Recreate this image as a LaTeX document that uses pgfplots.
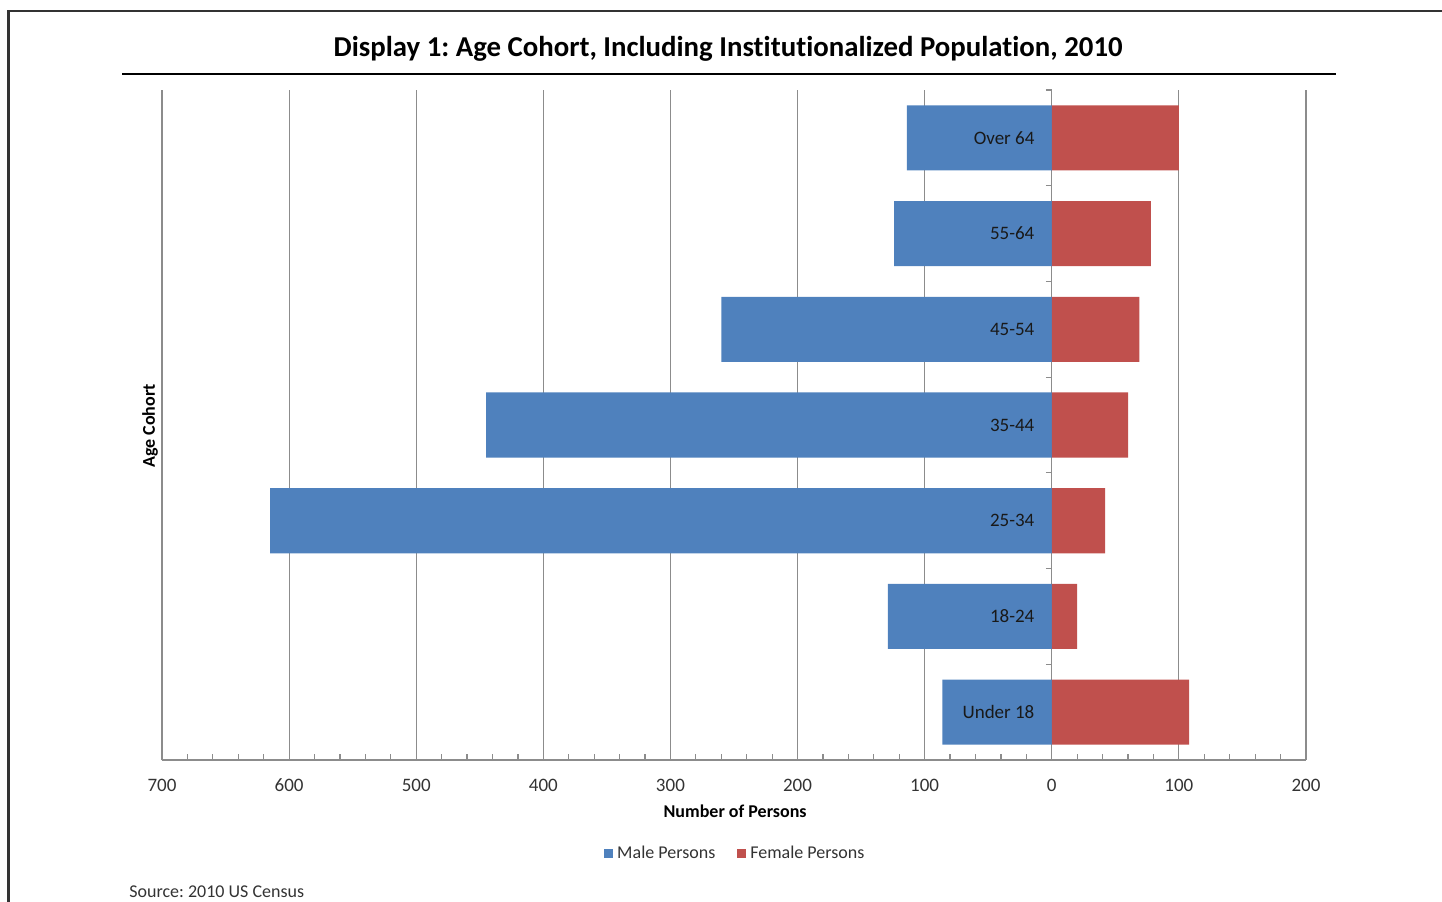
\documentclass[border=0pt]{standalone}
\usepackage{fontspec}
\setmainfont{Carlito}[Ligatures=NoCommon]
\usepackage{pgfplots}
\pgfplotsset{compat=1.18}
\definecolor{male}{HTML}{4F81BD}
\definecolor{female}{HTML}{C0504D}
\definecolor{gridc}{HTML}{8C8C8C}
\definecolor{txt}{HTML}{333333}
\frenchspacing
\begin{document}
\begin{tikzpicture}
\path (0,0) rectangle (721pt,450.5pt);
\draw[overlay, line width=1.25pt, color=black!80] (4.3pt,-2pt) -- (4.3pt,445pt) -- (724pt,445pt);
\node[font=\bfseries\fontsize{14.4}{17}\selectfont] at (364pt,426pt) {Display 1: Age Cohort, Including Institutionalized Population, 2010};
\draw[line width=0.6pt] (61pt,413.5pt) -- (668pt,413.5pt);
\begin{axis}[
  at={(81pt,70.5pt)}, anchor=south west, scale only axis,
  width=572pt, height=335pt,
  xmin=-700, xmax=200, ymin=-0.5, ymax=6.5,
  xbar, bar width=0.68, bar shift=0pt,
  axis x line=bottom, axis y line=center,
  hide obscured x ticks=false, hide obscured y ticks=false,
  axis line style={-, gridc, line width=0.6pt},
  every inner y axis line/.append style={-},
  every inner x axis line/.append style={-},
  xtick={-700,-600,...,200},
  minor x tick num=4,
  xmajorgrids, grid style={gridc, line width=0.6pt},
  xtick align=inside, ytick align=inside,
  major tick length=4pt, minor tick length=3pt,
  tick style={gridc, line width=0.6pt},
  every major y tick/.style={draw=none},
  every minor y tick/.style={xshift=-3pt},
  ytick={0,1,2,3,4,5,6},
  yticklabel={},
  minor ytick={0.5,1.5,2.5,3.5,4.5,5.5,6.5},
  /pgf/number format/assume math mode=true,
  xticklabel={\pgfmathparse{abs(\tick)}\pgfmathprintnumber[fixed,precision=0]{\pgfmathresult}},
  xticklabel style={font=\fontsize{9.5}{11}\selectfont, text=txt, yshift=-6pt},
  xlabel={Number of Persons},
  xlabel style={at={(axis description cs:0.501,-0.076)}, anchor=center, font=\bfseries\fontsize{9}{11}\selectfont, text=black},
  ylabel={Age Cohort},
  ylabel style={at={(axis description cs:-0.0105,0.4985)}, anchor=center, rotate=90, font=\bfseries\fontsize{9}{11}\selectfont, text=black},
  legend style={at={(axis description cs:0.502,-0.14)}, anchor=center, draw=none, fill=none,
    legend columns=2, font=\fontsize{9}{11}\selectfont, text=txt,
    /tikz/every even column/.append style={column sep=9pt},
    legend cell align=left, inner sep=0pt},
  legend image code/.code={\fill[#1] (0pt,-2.25pt) rectangle (4.5pt,2.25pt);},
]
\addplot[fill=male, draw=none] coordinates {(-86,0) (-129,1) (-615,2) (-445,3) (-260,4) (-124,5) (-114,6)};
\addplot[fill=female, draw=none] coordinates {(108,0) (20,1) (42,2) (60,3) (69,4) (78,5) (100,6)};
\legend{Male Persons, Female Persons}
\addplot[draw=none, fill=none, forget plot,
  point meta=explicit symbolic, nodes near coords,
  every node near coord/.style={anchor=east, inner sep=0pt, xshift=-8.5pt,
    font=\fontsize{9.5}{11}\selectfont, text=black!90}]
  coordinates {(0,0) [Under 18] (0,1) [18-24] (0,2) [25-34] (0,3) [35-44] (0,4) [45-54] (0,5) [55-64] (0,6) [Over 64]};
\end{axis}
\node[anchor=west, inner sep=0pt, font=\fontsize{9}{11}\selectfont, text=txt] at (64.5pt,4.5pt) {Source: 2010 US Census};
\end{tikzpicture}
\end{document}
